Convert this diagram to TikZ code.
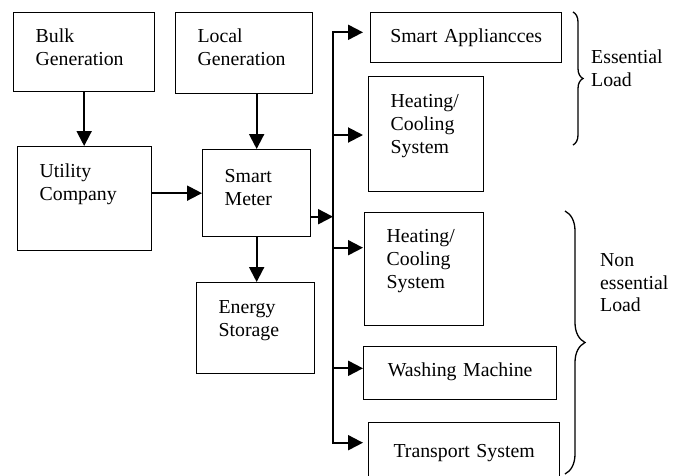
\documentclass[tikz,border=0pt]{standalone}
\usepackage{fontspec}
\setmainfont{Liberation Serif}
\usetikzlibrary{arrows.meta, decorations.pathreplacing}

\begin{document}
\begin{tikzpicture}[x=1pt, y=-1pt,
block/.style={draw, line width=1.3pt, anchor=north west, align=left, inner xsep=22pt, inner ysep=0pt, font=\fontsize{19.8}{23}\selectfont},
wideblock/.style={block, align=center, inner xsep=10pt},
flow/.style={line width=2pt, -{Triangle[length=15pt, width=15pt]}},
bus/.style={line width=2pt, line cap=rect},
brace/.style={decorate, decoration={brace, amplitude=#1}, line width=1.3pt},
note/.style={anchor=base west, align=left, inner sep=0pt, text width=90pt, font=\fontsize{19.8}{22.5}\selectfont}
]
\useasboundingbox (0,0) rectangle (689,475);
\clip (0,0) rectangle (689,475);

% Production
\node[block, text width=97pt, text height=29.7pt, text depth=49.3pt] (bulk) at (13,12) {Bulk\\Generation};
\node[block, text width=93pt, text height=30pt, text depth=51pt] (local) at (175,12) {Local\\Generation};
\node[block, text width=90pt, text height=31pt, text depth=73pt] (utility) at (17,146) {Utility\\Company};
\node[block, text width=64pt, text height=33pt, text depth=54pt] (meter) at (202,149) {Smart\\Meter};
\node[block, text width=74pt, text height=31pt, text depth=60pt] (storage) at (196,282) {Energy\\Storage};

% Charges
\node[wideblock, text width=171pt, text height=29.7pt, text depth=20.3pt] (appl) at (370,12) {Smart Appliancces};
\node[block, text width=71pt, text height=30.7pt, text depth=84.3pt] (hvac1) at (368,76) {Heating/\\Cooling\\System};
\node[block, text width=75pt, text height=29.7pt, text depth=83.3pt] (hvac2) at (364,212) {Heating/\\Cooling\\System};
\node[wideblock, text width=173pt, text height=30pt, text depth=23pt] (wash) at (363,346) {Washing Machine};
\node[wideblock, text width=171pt, text height=35pt, text depth=25pt] (transport) at (368,422) {Transport System};

% Bus
\coordinate (j) at (333,216.7);
\coordinate (b1) at (333,32.3);
\coordinate (b2) at (333,135);
\coordinate (b3) at (333,247.7);
\coordinate (b4) at (333,368.3);
\coordinate (b5) at (333,442.7);

% Connexions
\draw[flow] (bulk.south) -- (bulk.south |- utility.north);
\draw[flow] (meter.north |- local.south) -- (meter.north);
\draw[flow] (utility.east |- meter.west) -- (meter.west);
\draw[flow] (meter.south) -- (meter.south |- storage.north);
\draw[flow] (meter.east |- j) -- (j);

\draw[bus] (b1) -- (b5);
\draw[flow, shorten >=7pt] (b1) -- (b1 -| appl.west);
\draw[flow, shorten >=5pt] (b2) -- (b2 -| hvac1.west);
\draw[flow, shorten >=1pt] (b3) -- (b3 -| hvac2.west);
\draw[flow] (b4) -- (b4 -| wash.west);
\draw[flow, shorten >=5pt] (b5) -- (b5 -| transport.west);

% Accolades
\draw[brace=10pt] (573,12) -- (573,145);
\draw[brace=20pt] (565,211) -- (565,474);
\node[note] (ess) at (591,63.5) {Essential\\Load};
\node[note] (noness) at (600,266.7) {Non\\essential\\Load};

\end{tikzpicture}
\end{document}
